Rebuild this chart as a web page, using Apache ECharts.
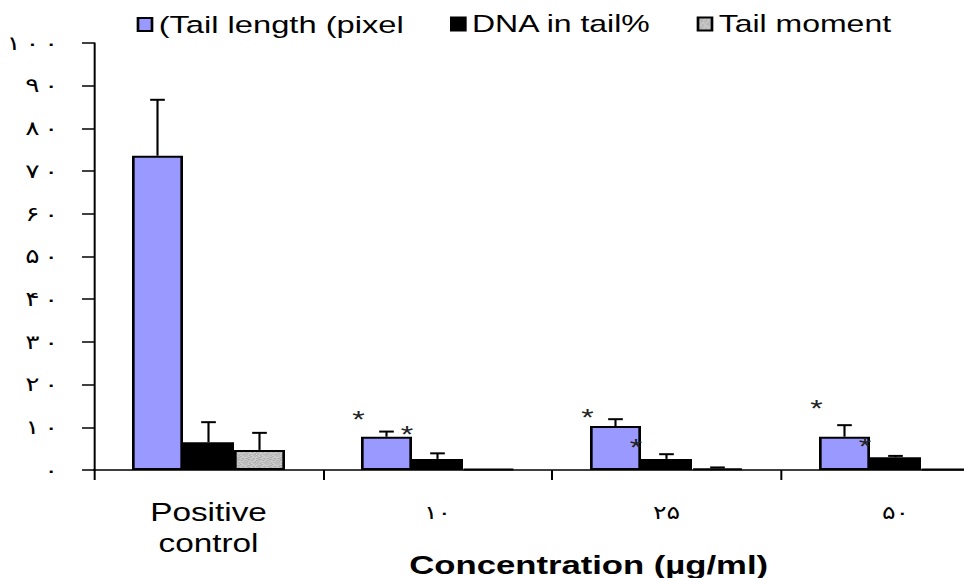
<!DOCTYPE html>
<html><head><meta charset="utf-8">
<script src="https://cdn.jsdelivr.net/npm/echarts@6/dist/echarts.min.js"></script>
<style>
html,body{margin:0;padding:0;background:#fff;overflow:hidden}
#wrap{width:964px;height:578px;overflow:hidden;position:relative;background:#fff}
#c{width:723px;height:578px;transform:scaleX(1.33333);transform-origin:0 0}
</style></head><body><div id="wrap"><div id="c"></div></div>
<script>
// ---- data ----
const categories = ['Positive\ncontrol', '۱۰', '۲۵', '۵۰'];
const yTickLabels = ['۰','۱۰','۲۰','۳۰','۴۰','۵۰','۶۰','۷۰','۸۰','۹۰','۱۰۰'];
const seriesNames = ['(Tail length (pixel', 'DNA in tail%', 'Tail moment'];
const tailLength = [73.6, 7.8, 10.3, 7.8];
const tailLengthErr = [13.1, 1.2, 1.6, 2.7];
const dnaInTail = [6.5, 2.6, 2.6, 3.0];
const dnaInTailErr = [4.7, 1.3, 1.1, 0.3];
const tailMoment = [4.7, 0.2, 0.4, 0.2];
const tailMomentErr = [4.0, 0, 0.2, 0];
const starOuter = [null, 13.3, 13.8, 15.9];
const starInner = [null, 9.6, 6.6, 7.0];

// ---- style ----
const BAR_W = 38.25;
const FONT = '"Liberation Sans", Arial, "DejaVu Sans", sans-serif';
const values = [tailLength, dnaInTail, tailMoment];
const errs = [tailLengthErr, dnaInTailErr, tailMomentErr];
const legendLefts = [102.5, 337.5, 522.5];

// mottled grey texture for "Tail moment"
const tex = document.createElement('canvas');
tex.width = 8; tex.height = 8;
(function () {
  const g = tex.getContext('2d');
  const shades = ['#c8c8c8','#b0b0b0','#d2d2d2','#a4a4a4'];
  const pat = [
    [0,1,2,0,3,0,2,1],[2,0,1,3,0,2,0,0],[1,3,0,0,2,1,3,2],[0,2,3,1,0,0,1,0],
    [3,0,1,2,1,3,0,2],[0,1,0,0,2,0,2,1],[2,3,2,1,0,1,0,3],[1,0,0,3,2,2,1,0]];
  for (let y = 0; y < 8; y++) for (let x = 0; x < 8; x++) {
    g.fillStyle = shades[pat[y][x]]; g.fillRect(x, y, 1, 1);
  }
})();
const colors = ['#9999ff', '#000000', {image: tex, repeat: 'repeat'}];

const chart = echarts.init(document.getElementById('c'), null, {renderer: 'svg'});

function errSeries(k) {
  return {
    type: 'custom', z: 5, silent: true,
    data: values[k].map((v, i) => [i, v, errs[k][i]]),
    renderItem: function (params, api) {
      const ci = api.value(0), v = api.value(1), e = api.value(2);
      if (!(e > 0)) return null;
      const b = api.coord([ci, v]);
      const t = api.coord([ci, v + e]);
      const x = b[0] + (k - 1) * BAR_W;
      return {type: 'group', children: [
        {type: 'line', shape: {x1: x, y1: b[1], x2: x, y2: t[1]}, style: {stroke: '#000', lineWidth: 1.6}},
        {type: 'line', shape: {x1: x - 5.5, y1: t[1], x2: x + 5.5, y2: t[1]}, style: {stroke: '#000', lineWidth: 2}}
      ]};
    }
  };
}

function starSeries(arr, off) {
  return {
    type: 'custom', z: 6, silent: true,
    data: arr.map((v, i) => [i, v]).filter(d => d[1] != null),
    renderItem: function (params, api) {
      const p = api.coord([api.value(0), api.value(1)]);
      return {type: 'text', style: {text: '*', x: p[0] + off * BAR_W, y: p[1] + 6,
        font: '24px ' + FONT, fill: '#222', align: 'center', verticalAlign: 'middle'}};
    }
  };
}

const barSeries = seriesNames.map((n, k) => ({
  name: n, type: 'bar', data: values[k], barWidth: BAR_W, barGap: '0%',
  itemStyle: {color: colors[k], borderColor: '#000', borderWidth: 2},
  emphasis: {disabled: true}
}));

function spaced(s) { return s.split('').map(ch => '{d|' + ch + '}').join(''); }

chart.setOption({
  animation: false,
  backgroundColor: '#fff',
  title: {
    text: 'Concentration (µg/ml)', left: 307, top: 552, padding: 0,
    textStyle: {fontFamily: FONT, fontSize: 26, fontWeight: 'bold', color: '#000'}
  },
  legend: seriesNames.map((n, k) => ({
    data: [n], left: legendLefts[k], top: 12, padding: 0,
    icon: 'rect', itemWidth: 10.5, itemHeight: 13, selectedMode: false,
    textStyle: {fontFamily: FONT, fontSize: k === 0 ? 24.5 : 24, color: '#000'}
  })),
  grid: {left: 70.5, top: 43, width: 687, bottom: 108, outerBoundsMode: 'none', containLabel: false},
  xAxis: {
    type: 'category', data: categories,
    axisLine: {lineStyle: {color: '#000', width: 1.5}},
    axisTick: {show: true, length: 10, lineStyle: {color: '#000', width: 1.5}},
    axisLabel: {
      interval: 0, margin: 27, color: '#000', fontFamily: FONT, fontSize: 25, lineHeight: 31,
      formatter: function (v) { return /^[۰-۹]+$/.test(v) ? '{d|' + v + '}' : v; },
      rich: {d: {fontFamily: '"DejaVu Sans", sans-serif', fontSize: 19, color: '#000', lineHeight: 31}}
    },
    splitLine: {show: false}
  },
  yAxis: {
    type: 'value', min: 0, max: 100, interval: 10,
    axisLine: {show: true, lineStyle: {color: '#000', width: 1.5}},
    axisTick: {show: true, length: 9, lineStyle: {color: '#000', width: 1.5}},
    axisLabel: {
      margin: 25, color: '#000', fontFamily: '"DejaVu Sans", sans-serif', fontSize: 20,
      formatter: function (v) { return spaced(yTickLabels[Math.round(v / 10)]); },
      rich: {d: {fontFamily: '"DejaVu Sans", sans-serif', fontSize: 20, color: '#000', padding: [0, 1.7]}}
    },
    splitLine: {show: false}
  },
  series: barSeries.concat([errSeries(0), errSeries(1), errSeries(2),
    starSeries(starOuter, -1.55), starSeries(starInner, -0.6)])
});
</script></body></html>
